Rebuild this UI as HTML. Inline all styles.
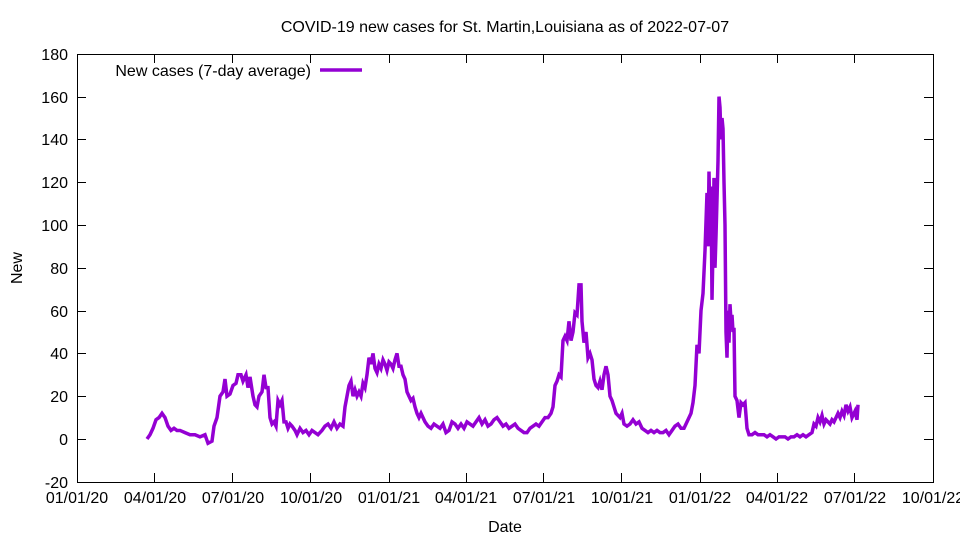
<!DOCTYPE html>
<html><head><meta charset="utf-8"><style>
html,body{margin:0;padding:0;background:#fff}
svg{display:block;font-family:"Liberation Sans",Arial,sans-serif}
</style></head><body>
<svg width="960" height="540" viewBox="0 0 960 540" xmlns="http://www.w3.org/2000/svg">
<rect width="960" height="540" fill="#fff"/>
<text x="505" y="32" font-size="16" text-anchor="middle">COVID-19 new cases for St. Martin,Louisiana as of 2022-07-07</text>
<g stroke="#000" stroke-width="1" fill="none">
<rect x="77.5" y="54.5" width="856" height="428"/>
<path d="M77 439.5h9M933 439.5h-9M77 396.5h9M933 396.5h-9M77 353.5h9M933 353.5h-9M77 311.5h9M933 311.5h-9M77 268.5h9M933 268.5h-9M77 225.5h9M933 225.5h-9M77 182.5h9M933 182.5h-9M77 139.5h9M933 139.5h-9M77 97.5h9M933 97.5h-9"/>
<path d="M154.5 482v-9M154.5 54v9M232.5 482v-9M232.5 54v9M310.5 482v-9M310.5 54v9M389.5 482v-9M389.5 54v9M466.5 482v-9M466.5 54v9M543.5 482v-9M543.5 54v9M621.5 482v-9M621.5 54v9M700.5 482v-9M700.5 54v9M777.5 482v-9M777.5 54v9M854.5 482v-9M854.5 54v9"/>
</g>
<g font-size="16" text-anchor="end">
<text x="68" y="488">-20</text><text x="68" y="445">0</text><text x="68" y="402">20</text><text x="68" y="359">40</text><text x="68" y="317">60</text><text x="68" y="274">80</text><text x="68" y="231">100</text><text x="68" y="188">120</text><text x="68" y="145">140</text><text x="68" y="103">160</text><text x="68" y="60">180</text>
</g>
<g font-size="16" text-anchor="middle">
<text x="77" y="503">01/01/20</text><text x="155" y="503">04/01/20</text><text x="233" y="503">07/01/20</text><text x="311" y="503">10/01/20</text><text x="389" y="503">01/01/21</text><text x="466" y="503">04/01/21</text><text x="544" y="503">07/01/21</text><text x="622" y="503">10/01/21</text><text x="700" y="503">01/01/22</text><text x="777" y="503">04/01/22</text><text x="855" y="503">07/01/22</text><text x="933" y="503">10/01/22</text>
<text x="505" y="532">Date</text>
</g>
<text x="22" y="268" font-size="16" text-anchor="middle" transform="rotate(-90 22 268)">New</text>
<text x="311" y="76" font-size="16" text-anchor="end">New cases (7-day average)</text>
<line x1="320" y1="70" x2="362" y2="70" stroke="#9400d3" stroke-width="3.5"/>
<g transform="translate(0,439) scale(1,-2.14)">
<polyline fill="none" stroke="#9400d3" stroke-width="3.5" vector-effect="non-scaling-stroke" stroke-linejoin="miter" points="147,0 150,2 153,5 156,9 159,10 162,12 165,10 168,6 171,4 174,5 177,4 180,4 185,3 190,2 195,2 200,1 205,2 208,-2 212,-1 214,6 217,10 220,20 223,22 225,28 227,20 230,21 233,25 236,26 238,30 241,30 243,27 246,30 248,24 250,29 253,20 255,16 257,15 259,20 262,22 264,30 266,24 268,24 270,10 272,7 274,8 276,6 278,18 280,16 282,18 284,8 286,8 288,5 290,7 292,6 295,4 297,2 300,5 303,3 306,4 309,2 312,4 315,3 318,2 322,4 325,6 328,7 331,5 334,8 337,5 340,7 343,6 345,15 347,20 349,25 351,27 353,20 355,23 357,20 359,22 361,20 363,26 365,24 367,30 369,38 371,35 373,40 375,33 377,31 379,35 381,33 383,37 385,35 387,32 389,36 391,35 393,33 395,37 397,40 399,34 401,34 403,30 405,28 407,22 409,20 411,18 413,19 415,15 417,12 419,10 421,12 423,10 425,8 428,6 431,5 434,7 437,6 440,5 443,7 446,3 449,4 452,8 455,7 458,5 461,7 464,5 467,8 470,7 473,6 476,8 479,10 482,7 485,9 488,6 491,7 494,9 497,10 500,8 503,6 506,7 509,5 512,6 515,7 518,5 521,4 524,3 527,3 530,5 533,6 536,7 539,6 542,8 545,10 548,10 551,12 553,15 555,25 557,27 559,30 561,29 563,46 565,48 567,46 569,55 571,46 573,50 575,59 577,58 579,72 581,72 582,55 584,45 586,50 588,38 590,40 592,37 594,28 596,25 598,24 600,27 602,23 604,30 606,34 608,30 610,20 612,18 614,15 616,12 618,11 620,10 622,12 624,7 627,6 630,7 633,9 636,7 639,8 642,5 645,4 648,3 651,4 654,3 657,4 660,3 663,3 666,4 669,2 672,4 675,6 678,7 681,5 684,5 687,8 689,10 691,12 693,17 695,25 697,44 699,40 701,60 703,68 705,88 707,115 708,90 709,125 710,100 711,118 712,65 713,90 714,122 715,80 716,95 717,112 718,130 719,160 720,155 721,140 722,150 723,145 724,120 725,100 726,50 727,38 728,60 729,45 730,63 731,55 732,58 733,50 734,52 735,20 737,18 739,10 741,17 743,16 745,17 747,5 749,2 752,2 755,3 758,2 761,2 764,2 767,1 770,2 773,1 776,0 779,1 782,1 785,1 788,0 791,1 794,1 797,2 800,1 803,2 806,1 809,2 812,3 814,7 816,6 818,10 820,8 822,11 824,7 826,9 828,8 830,7 832,9 834,8 836,10 838,12 840,10 842,13 844,11 846,16 848,13 850,15 852,10 855,13 857,9 858,16"/>
</g>
</svg>
</body></html>
